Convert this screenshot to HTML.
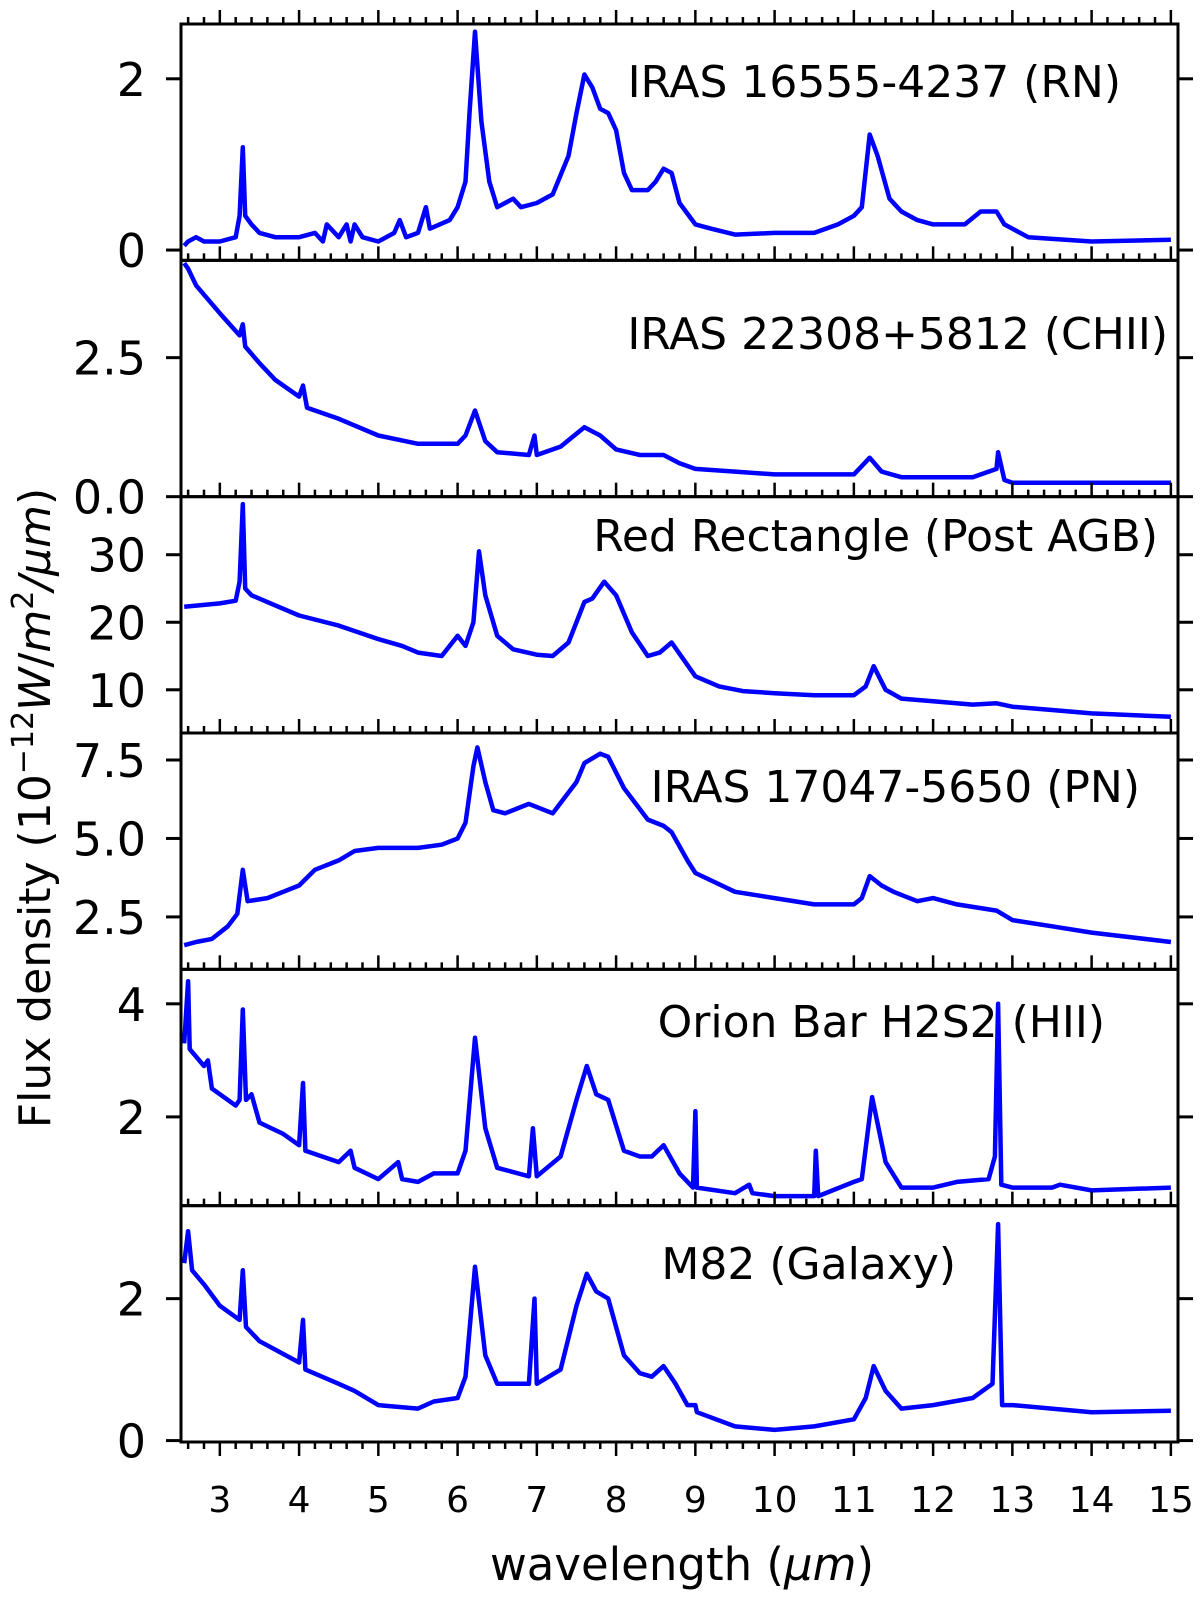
<!DOCTYPE html>
<html><head><meta charset="utf-8"><style>
body{margin:0;background:#fff}
svg{display:block;font-family:"DejaVu Sans","Liberation Sans",sans-serif}
</style></head><body>
<svg id="chart" width="1200" height="1606" viewBox="0 0 1200 1606" xmlns="http://www.w3.org/2000/svg"></svg>
<script>
const panelNames = ["IRAS 16555-4237 (RN)","IRAS 22308+5812 (CHII)","Red Rectangle (Post AGB)","IRAS 17047-5650 (PN)","Orion Bar H2S2 (HII)","M82 (Galaxy)"];
const wl1 = [2.55,2.6,2.7,2.8,3.0,3.2,3.25,3.29,3.32,3.4,3.5,3.7,4.0,4.2,4.3,4.35,4.5,4.6,4.65,4.7,4.8,5.0,5.2,5.27,5.35,5.5,5.6,5.65,5.9,6.0,6.1,6.15,6.22,6.3,6.4,6.5,6.6,6.7,6.8,7.0,7.2,7.4,7.5,7.6,7.7,7.8,7.9,8.0,8.1,8.2,8.3,8.4,8.5,8.6,8.7,8.8,9.0,9.2,9.5,10,10.5,10.8,11.0,11.1,11.2,11.3,11.45,11.6,11.8,12.0,12.2,12.4,12.6,12.8,12.9,13.2,14,15];
const fx1 = [0.05,0.1,0.15,0.1,0.1,0.15,0.4,1.2,0.4,0.3,0.2,0.15,0.15,0.2,0.1,0.3,0.15,0.3,0.1,0.3,0.15,0.1,0.2,0.35,0.15,0.2,0.5,0.25,0.35,0.5,0.8,1.6,2.55,1.5,0.8,0.5,0.55,0.6,0.5,0.55,0.65,1.1,1.6,2.05,1.9,1.65,1.6,1.4,0.9,0.7,0.7,0.7,0.8,0.95,0.9,0.55,0.3,0.25,0.18,0.2,0.2,0.3,0.4,0.5,1.35,1.1,0.6,0.45,0.35,0.3,0.3,0.3,0.45,0.45,0.3,0.15,0.1,0.12];
const wl2 = [2.55,2.6,2.7,3.0,3.25,3.29,3.32,3.5,3.7,4.0,4.05,4.1,4.5,5.0,5.5,5.7,6.0,6.1,6.22,6.35,6.5,6.9,6.97,7.0,7.3,7.6,7.8,8.0,8.3,8.6,8.8,9.0,9.5,10.0,10.5,11.0,11.2,11.35,11.6,12.0,12.5,12.8,12.82,12.9,13,14,15];
const fx2 = [4.2,4.1,3.8,3.3,2.9,3.1,2.7,2.4,2.1,1.8,2.0,1.6,1.4,1.1,0.95,0.95,0.95,1.1,1.55,1.0,0.8,0.75,1.1,0.75,0.9,1.25,1.1,0.85,0.75,0.75,0.6,0.5,0.45,0.4,0.4,0.4,0.7,0.45,0.35,0.35,0.35,0.5,0.8,0.3,0.25,0.25,0.25];
const wl3 = [2.55,3.0,3.2,3.25,3.29,3.32,3.4,3.7,4.0,4.5,5.0,5.3,5.5,5.8,6.0,6.1,6.2,6.27,6.35,6.5,6.7,7.0,7.2,7.4,7.6,7.7,7.85,8.0,8.2,8.4,8.55,8.7,8.85,9.0,9.3,9.6,10,10.5,11,11.15,11.25,11.4,11.6,12,12.5,12.8,13,13.5,14,15];
const fx3 = [22.3,22.8,23.2,26,37.5,25,24,22.5,21,19.5,17.5,16.5,15.5,15,18,16.5,20,30.5,24,18,16,15.2,15,17,23,23.5,26,24,18.5,15,15.5,17,14.5,12,10.5,9.8,9.5,9.2,9.2,10.5,13.5,10,8.7,8.3,7.8,8,7.5,7,6.5,6.0];
const wl4 = [2.55,2.7,2.9,3.1,3.22,3.29,3.35,3.6,4.0,4.2,4.5,4.7,5.0,5.5,5.8,6.0,6.1,6.2,6.25,6.35,6.45,6.6,6.9,7.0,7.2,7.5,7.6,7.8,7.9,8.1,8.4,8.6,8.7,8.9,9.0,9.5,10,10.5,11.0,11.1,11.2,11.35,11.5,11.8,12,12.3,12.8,13,13.5,14,15];
const fx4 = [1.6,1.7,1.8,2.2,2.6,4.0,3.0,3.1,3.5,4.0,4.3,4.6,4.7,4.7,4.8,5.0,5.5,7.3,7.9,6.8,5.9,5.8,6.1,6.0,5.8,6.8,7.4,7.7,7.6,6.6,5.6,5.4,5.2,4.3,3.9,3.3,3.1,2.9,2.9,3.1,3.8,3.5,3.3,3.0,3.1,2.9,2.7,2.4,2.2,2.0,1.7];
const wl5 = [2.55,2.6,2.62,2.8,2.85,2.9,3.2,3.25,3.29,3.33,3.4,3.5,3.8,4.0,4.05,4.08,4.5,4.65,4.7,5.0,5.25,5.3,5.5,5.7,6.0,6.1,6.22,6.35,6.5,6.9,6.95,7.0,7.3,7.5,7.63,7.75,7.9,8.1,8.3,8.45,8.6,8.8,8.97,9.0,9.02,9.5,9.68,9.72,10,10.5,10.52,10.55,11.0,11.1,11.23,11.4,11.6,12,12.3,12.7,12.78,12.82,12.86,13,13.5,13.6,14,15];
const fx5 = [3.3,4.4,3.2,2.9,3.0,2.5,2.2,2.3,3.9,2.3,2.4,1.9,1.7,1.5,2.6,1.4,1.2,1.4,1.1,0.9,1.2,0.9,0.85,1.0,1.0,1.4,3.4,1.8,1.1,0.95,1.8,0.95,1.3,2.3,2.9,2.4,2.3,1.4,1.3,1.3,1.5,1.0,0.75,2.1,0.75,0.65,0.8,0.65,0.6,0.6,1.4,0.6,0.85,0.9,2.35,1.2,0.75,0.75,0.85,0.9,1.3,4.0,0.8,0.75,0.75,0.8,0.7,0.75];
const wl6 = [2.55,2.6,2.65,2.8,3.0,3.25,3.29,3.33,3.5,4.0,4.05,4.08,4.5,4.7,5.0,5.5,5.7,6.0,6.1,6.22,6.35,6.5,6.9,6.97,7.0,7.3,7.5,7.63,7.75,7.9,8.1,8.3,8.45,8.6,8.75,8.9,9.0,9.02,9.5,10,10.5,11.0,11.15,11.25,11.4,11.6,12,12.5,12.75,12.82,12.87,13,14,15];
const fx6 = [2.5,2.95,2.4,2.2,1.9,1.7,2.4,1.6,1.4,1.1,1.7,1.0,0.8,0.7,0.5,0.45,0.55,0.6,0.9,2.45,1.2,0.8,0.8,2.0,0.8,1.0,1.9,2.35,2.1,2.0,1.2,0.95,0.9,1.05,0.8,0.5,0.5,0.4,0.2,0.15,0.2,0.3,0.6,1.05,0.7,0.45,0.5,0.6,0.8,3.05,0.5,0.5,0.4,0.42];
const yTicks = [[0,2],[0.0,2.5],[10,20,30],[2.5,5.0,7.5],[2,4],[0,2]];
const yTickLabels = [["0","2"],["0.0","2.5"],["10","20","30"],["2.5","5.0","7.5"],["2","4"],["0","2"]];
const yRanges = [[-0.12,2.64],[0,4.25],[3.6,38.6],[0.83,8.36],[0.43,4.61],[-0.02,3.31]];
const xTicks = [3,4,5,6,7,8,9,10,11,12,13,14,15];
const series = [[wl1,fx1],[wl2,fx2],[wl3,fx3],[wl4,fx4],[wl5,fx5],[wl6,fx6]];

const NS="http://www.w3.org/2000/svg";
const svg=document.getElementById('chart');
const L=181,R=1178,T=24,B=1442,PH=(B-T)/6,XMIN=2.51,XMAX=15.09;
function xs(v){return L+(v-XMIN)/(XMAX-XMIN)*(R-L);}
function mk(tag,a,parent){const e=document.createElementNS(NS,tag);for(const k in a)e.setAttribute(k,a[k]);(parent||svg).appendChild(e);return e;}
for(let p=0;p<6;p++){
  const top=T+p*PH,bot=top+PH,[y0,y1]=yRanges[p];
  const ys=v=>bot-(v-y0)/(y1-y0)*PH;
  const g=mk('g',{});
  
  
  const pts=series[p][0].map((w,i)=>xs(w).toFixed(1)+','+ys(series[p][1][i]).toFixed(1)).join(' ');
  const line=mk('polyline',{points:pts,fill:'none',stroke:'#0000ff','stroke-width':4.5,'stroke-linejoin':'round'},g);
  
  
  yTicks[p].forEach((v,i)=>{
    const y=ys(v);
    mk('line',{x1:L-15,x2:L,y1:y,y2:y,stroke:'#000','stroke-width':3},g);
    mk('line',{x1:R,x2:R+15,y1:y,y2:y,stroke:'#000','stroke-width':3},g);
    const t=mk('text',{x:L-35,y:y+17,'text-anchor':'end','font-size':46},g);
    t.textContent=yTickLabels[p][i];
    
    
  });
  for(let m=2.6;m<=15.01;m+=0.2){
    const maj=Math.abs(m-Math.round(m))<0.01;
    const x=xs(m);
    mk('line',{x1:x,x2:x,y1:top,y2:top-(maj?14:7),stroke:'#000','stroke-width':2.5},g);
    if(p===5) mk('line',{x1:x,x2:x,y1:bot,y2:bot+(maj?14:7),stroke:'#000','stroke-width':2.5},g);
  }
  const lab=mk('text',{x:[1121,1168,1158,1140,1105,956][p],y:[97,349,551,802,1037,1279][p],'text-anchor':'end','font-size':44},g);
  lab.textContent=panelNames[p];
  
  
  mk('rect',{x:L,y:top,width:R-L,height:PH,fill:'none',stroke:'#000','stroke-width':3},g);
}
xTicks.forEach(v=>{
  const t=mk('text',{x:xs(v),y:1512,'text-anchor':'middle','font-size':36});
  t.textContent=String(v);
  
  
});
const xl=mk('text',{x:682,y:1580,'text-anchor':'middle','font-size':45});
xl.innerHTML='wavelength (<tspan font-style="italic">μm</tspan>)';


const yl=mk('text',{x:0,y:0,'text-anchor':'middle','font-size':44,transform:'translate(50,808) rotate(-90)'});
yl.innerHTML='Flux density (10<tspan dy="-17" font-size="30">−12</tspan><tspan dy="17" font-style="italic">W</tspan>/<tspan font-style="italic">m</tspan><tspan dy="-17" font-size="30">2</tspan><tspan dy="17" font-style="italic">/μm</tspan>)';


</script>
</body></html>
